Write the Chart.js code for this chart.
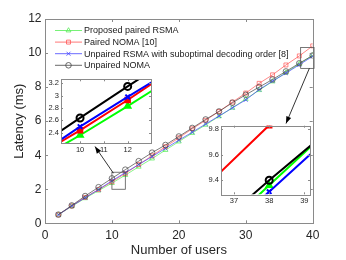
<!DOCTYPE html>
<html>
<head>
<meta charset="utf-8">
<script src="https://cdn.jsdelivr.net/npm/chart.js@4.4.1/dist/chart.umd.min.js"></script>
<style>
  html, body { margin: 0; padding: 0; background: #fff; }
  #wrap { position: relative; width: 346px; height: 260px; }
  canvas { position: absolute; }
</style>
</head>
<body>
<div id="wrap">
  <canvas id="main" width="346" height="260" style="left:0;top:0"></canvas>
  <canvas id="zoomA" width="118" height="90" style="left:40px;top:70px"></canvas>
  <canvas id="zoomB" width="118" height="88" style="left:200px;top:118px"></canvas>
</div>
<script>
// number of users (x) and latency in ms for each scheme
const users = [2, 4, 6, 8, 10, 12, 14, 16, 18, 20, 22, 24, 26, 28, 30, 32, 34, 36, 38, 40];
const proposedRsma = [0.5, 1.0, 1.47, 1.92, 2.36, 2.83, 3.32, 3.8, 4.3, 4.8, 5.3, 5.78, 6.28, 6.78, 7.3, 7.82, 8.33, 8.85, 9.36, 9.87];
const pairedNoma = [0.5, 1.02, 1.52, 1.98, 2.44, 2.93, 3.45, 3.97, 4.5, 5.02, 5.55, 6.05, 6.57, 7.12, 7.65, 8.22, 8.72, 9.3, 9.83, 10.42];
const unpairedRsma = [0.5, 1.02, 1.5, 1.98, 2.5, 2.98, 3.45, 3.92, 4.4, 4.88, 5.35, 5.83, 6.3, 6.78, 7.25, 7.85, 8.35, 8.82, 9.31, 9.81];
const unpairedNoma = [0.51, 1.05, 1.6, 2.12, 2.64, 3.15, 3.65, 4.15, 4.6, 5.1, 5.6, 6.1, 6.57, 7.08, 7.55, 8.0, 8.45, 8.92, 9.4, 9.86];
const seriesNames = [
  "Proposed paired RSMA",
  "Paired NOMA [10]",
  "Unpaired RSMA with suboptimal decoding order [8]",
  "Unpaired NOMA",
];

// tick labels
const xTicks = [0, 10, 20, 30, 40];
const yTicks = [0, 2, 4, 6, 8, 10, 12];
// zoomed views
const zoomAX = [9.2, 12.98], zoomAY = [2.23, 3.265];
const zoomAXTicks = [10, 11, 12], zoomAYTicks = [2.4, 2.6, 2.8, 3, 3.2];
const zoomBX = [36.63, 39.16], zoomBY = [9.29, 9.826];
const zoomBXTicks = [37, 38, 39], zoomBYTicks = [9.4, 9.6, 9.8];
// boxes marking the zoomed regions on the main axes
const markA = [10, 12, 2, 3];
const markB = [38.2, 40.2, 9.1, 10.33];

const FONT = "'Liberation Sans', Arial, Helvetica, sans-serif";
const colors = ["#00ff00", "#ff0000", "#0000ff", "#000000"];
const thinColors = ["#55ee55", "#ff5555", "#4444ff", "#444444"];
const shapes = ["triangle", "rect", "crossRot", "circle"];
const allSeries = [proposedRsma, pairedNoma, unpairedRsma, unpairedNoma];

const toPoints = (vals) => users.map((u, i) => ({ x: u, y: vals[i] }));

const makeDatasets = (thick) =>
  allSeries.map((vals, i) => ({
    label: seriesNames[i],
    data: toPoints(vals),
    borderColor: thick ? colors[i] : thinColors[i],
    borderWidth: thick ? 2 : 0.7,
    pointStyle: shapes[i],
    pointRadius: thick ? (i === 3 ? 3.5 : 3.2) : 2.8,
    pointBorderWidth: thick ? 2 : 0.7,
    pointBorderColor: thick ? colors[i] : thinColors[i],
    pointBackgroundColor: thick && i < 2 ? colors[i] : "rgba(0,0,0,0)",
    order: 4 - i, // black drawn last, like the original
  }));

// frame with inward ticks on all four sides
const framePlugin = {
  id: "frame",
  beforeDraw(chart, args, opts) {
    const a = chart.chartArea, ctx = chart.ctx;
    if (opts.fill) {
      ctx.save();
      ctx.fillStyle = "#ffffff";
      ctx.fillRect(a.left, a.top, a.right - a.left, a.bottom - a.top);
      ctx.restore();
    }
  },
  afterDraw(chart, args, opts) {
    const a = chart.chartArea, ctx = chart.ctx;
    const len = opts.tick || 3;
    ctx.save();
    ctx.strokeStyle = opts.color || "#8a8a8a";
    ctx.lineWidth = 1;
    ctx.beginPath();
    chart.scales.x.ticks.forEach((t) => {
      const p = Math.round(chart.scales.x.getPixelForValue(t.value)) + 0.5;
      ctx.moveTo(p, a.bottom); ctx.lineTo(p, a.bottom - len);
      ctx.moveTo(p, a.top); ctx.lineTo(p, a.top + len);
    });
    chart.scales.y.ticks.forEach((t) => {
      const p = Math.round(chart.scales.y.getPixelForValue(t.value)) + 0.5;
      ctx.moveTo(a.left, p); ctx.lineTo(a.left + len, p);
      ctx.moveTo(a.right, p); ctx.lineTo(a.right - len, p);
    });
    ctx.stroke();
    ctx.strokeRect(Math.round(a.left) + 0.5, Math.round(a.top) + 0.5,
      Math.round(a.right - a.left), Math.round(a.bottom - a.top));
    ctx.restore();
  },
};

// legend drawn inside the axes, MATLAB style
const legendPlugin = {
  id: "insideLegend",
  afterDraw(chart) {
    const ctx = chart.ctx;
    const x0 = 55, x1 = 82, top = 30.5, step = 11.6;
    ctx.save();
    ctx.font = "9px " + FONT;
    ctx.textBaseline = "middle";
    chart.data.datasets.forEach((ds, i) => {
      const y = top + i * step;
      ctx.strokeStyle = ds.borderColor;
      ctx.lineWidth = 0.8;
      ctx.beginPath(); ctx.moveTo(x0, y); ctx.lineTo(x1, y); ctx.stroke();
      ctx.fillStyle = "rgba(0,0,0,0)";
      Chart.helpers.drawPoint(ctx, { pointStyle: ds.pointStyle, radius: 2.8, borderWidth: 0.8, rotation: 0 }, (x0 + x1) / 2, y);
      ctx.fillStyle = "#1a1a1a";
      ctx.fillText(ds.label, x1 + 2, y + 0.5);
    });
    ctx.restore();
  },
};

// zoom boxes and arrows pointing to the insets
const arrowPlugin = {
  id: "zoomArrows",
  afterDraw(chart) {
    const ctx = chart.ctx, xs = chart.scales.x, ys = chart.scales.y;
    const box = (m) => [xs.getPixelForValue(m[0]), xs.getPixelForValue(m[1]), ys.getPixelForValue(m[3]), ys.getPixelForValue(m[2])];
    const arrow = (x0, y0, x1, y1) => {
      const ang = Math.atan2(y1 - y0, x1 - x0), L = 7, W = 2.6;
      ctx.beginPath(); ctx.moveTo(x0, y0); ctx.lineTo(x1, y1); ctx.stroke();
      ctx.beginPath();
      ctx.moveTo(x1, y1);
      ctx.lineTo(x1 - L * Math.cos(ang) + W * Math.sin(ang), y1 - L * Math.sin(ang) - W * Math.cos(ang));
      ctx.lineTo(x1 - L * Math.cos(ang) - W * Math.sin(ang), y1 - L * Math.sin(ang) + W * Math.cos(ang));
      ctx.closePath(); ctx.fill();
    };
    ctx.save();
    ctx.strokeStyle = "#555";
    ctx.lineWidth = 0.8;
    const a = box(markA), b = box(markB);
    ctx.strokeRect(a[0], a[2], a[1] - a[0], a[3] - a[2]);
    ctx.strokeRect(b[0], b[2], b[1] - b[0], b[3] - b[2]);
    ctx.strokeStyle = "#000";
    ctx.fillStyle = "#000";
    arrow(a[0] + 1.5, a[2] + 1, 95, 146.5);
    arrow(xs.getPixelForValue(39.5), b[3], 286, 123.5);
    ctx.restore();
  },
};

const fixTicks = (arr) => (s) => { s.ticks = arr.map((v) => ({ value: v })); };
const noGrid = { display: false, drawTicks: false };
const plainLabel = (v) => String(v);

new Chart(document.getElementById("main"), {
  type: "line",
  data: { datasets: makeDatasets(false) },
  plugins: [framePlugin, legendPlugin, arrowPlugin],
  options: {
    responsive: false,
    animation: false,
    layout: { padding: { top: 19, right: 33.3, left: 0, bottom: 0 } },
    plugins: {
      legend: { display: false },
      tooltip: { enabled: false },
      frame: { tick: 3, color: "#8a8a8a" },
    },
    scales: {
      x: {
        type: "linear", min: 0, max: 40,
        grid: noGrid, border: { display: false },
        afterBuildTicks: fixTicks(xTicks),
        afterFit: (s) => { s.height = 36.7; },
        ticks: { color: "#262626", padding: 5.5, maxRotation: 0, autoSkip: false, callback: plainLabel, font: { family: FONT, size: 12 } },
        title: { display: true, text: "Number of users", color: "#262626", padding: { top: 0, bottom: 2 }, font: { family: FONT, size: 13 } },
      },
      y: {
        type: "linear", min: 0, max: 12,
        grid: noGrid, border: { display: false },
        afterBuildTicks: fixTicks(yTicks),
        afterFit: (s) => { s.width = 45; },
        ticks: { color: "#262626", padding: 3.5, autoSkip: false, callback: plainLabel, font: { family: FONT, size: 12 } },
        title: { display: true, text: "Latency (ms)", color: "#262626", padding: { top: 12, bottom: 0 }, font: { family: FONT, size: 13 } },
      },
    },
  },
});

const insetOptions = (xr, yr, xt, yt, pad, xh) => ({
  responsive: false,
  animation: false,
  layout: { padding: pad },
  plugins: {
    legend: { display: false },
    tooltip: { enabled: false },
    frame: { tick: 2, color: "#8a8a8a", fill: true },
  },
  scales: {
    x: {
      type: "linear", min: xr[0], max: xr[1],
      grid: noGrid, border: { display: false },
      afterBuildTicks: fixTicks(xt),
      afterFit: (s) => { s.height = xh; },
      ticks: { color: "#262626", padding: 2.5, maxRotation: 0, autoSkip: false, callback: plainLabel, font: { family: FONT, size: 7.5 } },
    },
    y: {
      type: "linear", min: yr[0], max: yr[1],
      grid: noGrid, border: { display: false },
      afterBuildTicks: fixTicks(yt),
      afterFit: (s) => { s.width = 21; },
      ticks: { color: "#262626", padding: 2, autoSkip: false, callback: plainLabel, font: { family: FONT, size: 7.5 } },
    },
  },
});

new Chart(document.getElementById("zoomA"), {
  type: "line",
  data: { datasets: makeDatasets(true) },
  plugins: [framePlugin],
  options: insetOptions(zoomAX, zoomAY, zoomAXTicks, zoomAYTicks, { top: 9.3, right: 7, left: 0, bottom: 0 }, 16.7),
});

new Chart(document.getElementById("zoomB"), {
  type: "line",
  data: { datasets: makeDatasets(true) },
  plugins: [framePlugin],
  options: insetOptions(zoomBX, zoomBY, zoomBXTicks, zoomBYTicks, { top: 7.7, right: 8, left: 0, bottom: 0 }, 11.7),
});
</script>
</body>
</html>
